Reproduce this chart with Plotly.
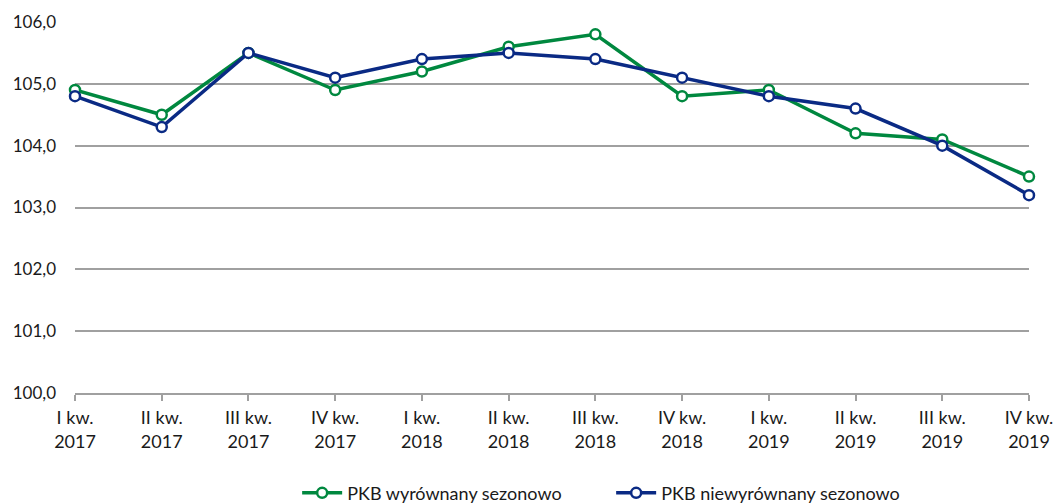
import plotly.graph_objects as go

categories = ["I kw.<br>2017", "II kw.<br>2017", "III kw.<br>2017", "IV kw.<br>2017",
              "I kw.<br>2018", "II kw.<br>2018", "III kw.<br>2018", "IV kw.<br>2018",
              "I kw.<br>2019", "II kw.<br>2019", "III kw.<br>2019", "IV kw.<br>2019"]
sa_values = [104.9, 104.5, 105.5, 104.9, 105.2, 105.6, 105.8, 104.8, 104.9, 104.2, 104.1, 103.5]
nsa_values = [104.8, 104.3, 105.5, 105.1, 105.4, 105.5, 105.4, 105.1, 104.8, 104.6, 104.0, 103.2]
y_ticks = [100, 101, 102, 103, 104, 105, 106]

GREEN = "#00883F"
BLUE = "#0A2A84"
FONT = "Lato, Noto Sans, sans-serif"

fig = go.Figure()
fig.add_trace(go.Scatter(
    x=categories, y=sa_values, name="PKB wyrównany sezonowo",
    mode="lines+markers", cliponaxis=False,
    line=dict(color=GREEN, width=3.5),
    marker=dict(symbol="circle", size=10, color="white", line=dict(color=GREEN, width=2.5)),
))
fig.add_trace(go.Scatter(
    x=categories, y=nsa_values, name="PKB niewyrównany sezonowo",
    mode="lines+markers", cliponaxis=False,
    line=dict(color=BLUE, width=3.5),
    marker=dict(symbol="circle", size=10, color="white", line=dict(color=BLUE, width=2.5)),
))

fig.update_layout(
    width=1057, height=503,
    margin=dict(l=75, r=28, t=22, b=110, autoexpand=False),
    paper_bgcolor="white", plot_bgcolor="white",
    font=dict(family=FONT, size=17, color="#1a1a1a"),
    separators=", ",
    showlegend=True,
    legend=dict(orientation="h", x=0.562, xanchor="center", y=-0.27, yanchor="middle",
                font=dict(size=18, family=FONT), itemwidth=40, traceorder="normal",
                entrywidth=259, entrywidthmode="pixels"),
)
fig.update_xaxes(
    type="category", range=[0, 11], automargin=False,
    showgrid=False, showline=True, linecolor="#a0a0a0", linewidth=1.5,
    ticks="outside", ticklen=6, tickcolor="#a0a0a0", tickwidth=1.5,
    ticklabeloverflow="allow", ticklabelstandoff=2, tickfont=dict(size=18),
)
fig.update_yaxes(
    range=[100, 106], tickvals=y_ticks, tickformat=".1f", automargin=False,
    showgrid=True, gridcolor="#a0a0a0", gridwidth=1.5,
    zeroline=False, showline=False, ticks="", ticklabelstandoff=18,
)

fig.write_html("out.html", config={"displayModeBar": False},
               post_script="document.body.style.margin='0px';document.body.style.overflow='hidden';")
